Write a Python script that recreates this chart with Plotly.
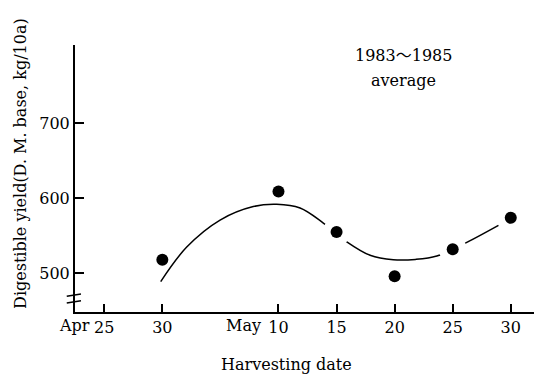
import plotly.graph_objects as go

# Days counted from April 25
tick_days = [0, 5, 15, 20, 25, 30, 35]
tick_labels = ["25", "30", "10", "15", "20", "25", "30"]
month_labels = ["Apr", "May"]
month_days = [0, 15]

# Observed digestible yield (kg/10a), 1983-1985 average
harvest_days = [5, 15, 20, 25, 30, 35]
yield_values = [518, 609, 555, 496, 532, 574]

# Fitted curve
curve_days = [4.86, 7.10, 9.97, 12.83, 14.85, 16.86, 18.86, 20.88, 22.89, 24.89, 26.8, 28.63, 30.92, 33.94]
curve_values = [489, 535, 571, 589, 592, 587, 567, 542, 524, 518, 518.5, 523, 539, 564]

FONT = "DejaVu Serif, serif"
TFONT = dict(family=FONT, size=16, color="black")

fig = go.Figure()
fig.add_trace(go.Scatter(x=curve_days, y=curve_values, mode="lines",
                         line=dict(color="black", width=1.5, shape="spline"),
                         hoverinfo="skip", showlegend=False))
# white halo that breaks the curve where it passes through a point
halo_idx = [2, 4]
fig.add_trace(go.Scatter(x=[harvest_days[i] for i in halo_idx],
                         y=[yield_values[i] for i in halo_idx], mode="markers",
                         marker=dict(color="white", size=28), hoverinfo="skip",
                         showlegend=False))
fig.add_trace(go.Scatter(x=harvest_days, y=yield_values, mode="markers",
                         marker=dict(color="black", size=12), showlegend=False))

fig.update_xaxes(range=[-2.52, 37.0], tickmode="array", tickvals=tick_days,
                 ticktext=tick_labels, ticks="inside", ticklen=8, tickwidth=1.5,
                 tickcolor="black", showline=True, linecolor="black", linewidth=2,
                 showgrid=False, zeroline=False, tickfont=TFONT)
fig.update_yaxes(range=[448.4, 804.4], tickmode="array", tickvals=[500, 600, 700],
                 ticks="inside", ticklen=9, tickwidth=1.5, tickcolor="black",
                 showline=True, linecolor="black", linewidth=2,
                 showgrid=False, zeroline=False, ticklabelstandoff=0,
                 tickfont=TFONT)

annotations = []
for m, d, sh in zip(month_labels, month_days, [-12, -15]):
    annotations.append(dict(x=d, y=0, xref="x", yref="paper", text=m,
                            xanchor="right", yanchor="top", xshift=sh,
                            yshift=-2, showarrow=False, font=TFONT))
annotations.append(dict(x=0.46, y=-0.1985, xref="paper", yref="paper",
                        text="Harvesting date", showarrow=False,
                        xanchor="center", yanchor="middle", font=TFONT))
annotations.append(dict(x=-0.12, y=0.558, xref="paper", yref="paper",
                        text="Digestible yield(D. M. base, kg/10a)", textangle=-90,
                        showarrow=False, xanchor="center", yanchor="middle",
                        font=TFONT))
annotations.append(dict(x=25.8, y=791, xref="x", yref="y", text="1983～1985",
                        showarrow=False, xanchor="center", yanchor="middle",
                        font=dict(family=FONT + ", Noto Sans CJK JP", size=16, color="black")))
annotations.append(dict(x=25.8, y=757.7, xref="x", yref="y", text="average",
                        showarrow=False, xanchor="center", yanchor="middle",
                        font=TFONT))

shapes = [
    dict(type="line", xref="paper", yref="y", x0=-0.018, x1=0.013, y0=469.5, y1=472.5,
         line=dict(color="black", width=1.5)),
    dict(type="line", xref="paper", yref="y", x0=-0.018, x1=0.013, y0=460.5, y1=463.5,
         line=dict(color="black", width=1.5)),
]

fig.update_layout(width=534, height=382, margin=dict(l=75, r=0, t=45, b=70),
                  plot_bgcolor="white", paper_bgcolor="white",
                  annotations=annotations, shapes=shapes)

fig.write_html("out.html")
